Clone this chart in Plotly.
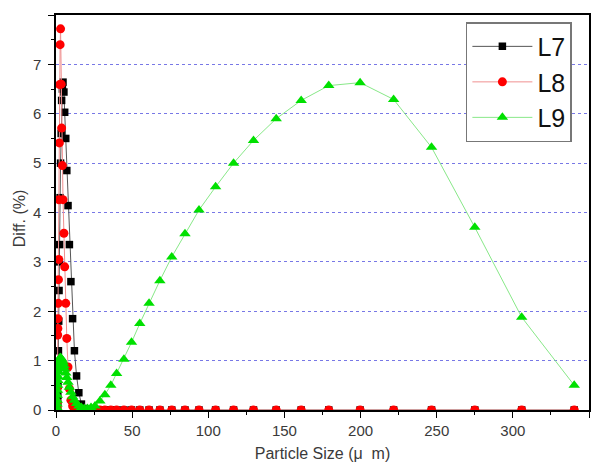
import plotly.graph_objects as go

# Particle size bins (µm)
sizes = [0.6, 0.7, 0.8, 0.9, 1.0, 1.1, 1.2, 1.3, 1.45, 1.6,
         1.8, 2.0, 2.2, 2.4, 2.7, 3.0, 3.4, 3.7, 4.2, 4.6,
         5.2, 5.7, 6.4, 7.1, 7.9, 8.8, 9.8, 10.9, 12.1, 13.5,
         15.0, 16.7, 18.6, 20.7, 23.0, 25.6, 28.8, 32.1, 36.0, 39.8,
         44.6, 49.6, 55.0, 61.1, 68.2, 76.0, 84.7, 93.9, 104.8, 116.6,
         129.7, 144.6, 161.0, 179.1, 199.7, 221.7, 246.6, 275.0, 305.8, 340.3]

L7 = [0, 0, 0.02, 0.05, 0.1, 0.18, 0.3, 0.5, 0.8, 1.2,
      1.8, 2.42, 3.0, 3.35, 4.3, 5.0, 5.6, 6.27, 6.5, 6.64,
      6.44, 6.03, 5.5, 4.85, 4.14, 3.35, 2.6, 1.85, 1.2, 0.69,
      0.35, 0.12, 0.03, 0.01, 0, 0, 0, 0, 0, 0,
      0, 0, 0, 0, 0, 0, 0, 0, 0, 0,
      0, 0, 0, 0, 0, 0, 0, 0, 0, 0]

L8 = [0, 0.05, 0.15, 0.45, 0.95, 1.52, 1.65, 1.85, 2.16, 2.64,
      3.05, 4.26, 5.41, 6.59, 7.40, 7.72, 6.6, 5.71, 4.95, 4.26,
      3.58, 2.9, 2.16, 1.45, 0.87, 0.43, 0.2, 0.08, 0.03, 0.01,
      0, 0, 0, 0, 0, 0, 0, 0, 0, 0,
      0, 0, 0, 0, 0, 0, 0, 0, 0, 0,
      0, 0, 0, 0, 0, 0, 0, 0, 0, 0]

L9 = [0.05, 0.12, 0.2, 0.3, 0.4, 0.5, 0.6, 0.68, 0.78, 0.86,
      0.93, 0.98, 1.02, 1.04, 1.06, 1.06, 1.05, 1.03, 1.0, 0.96,
      0.9, 0.83, 0.75, 0.66, 0.56, 0.46, 0.36, 0.27, 0.2, 0.13,
      0.08, 0.05, 0.03, 0.03, 0.05, 0.08, 0.18, 0.31, 0.5, 0.74,
      1.03, 1.37, 1.75, 2.16, 2.62, 3.10, 3.57, 4.05, 4.52, 5.0,
      5.46, 5.90, 6.27, 6.57, 6.63, 6.29, 5.32, 3.70, 1.88, 0.50]

x_ticks = [0, 50, 100, 150, 200, 250, 300, 350]
y_ticks = [0, 1, 2, 3, 4, 5, 6, 7, 8]

FONT = "Liberation Sans, Arial, sans-serif"
TXT = "#3a3a3a"

fig = go.Figure()
fig.add_trace(go.Scatter(
    x=sizes, y=L7, name="L7", mode="lines+markers",
    line=dict(color="#555555", width=1),
    marker=dict(symbol="square", size=7.5, color="#000000"),
))
fig.add_trace(go.Scatter(
    x=sizes, y=L8, name="L8", mode="lines+markers",
    line=dict(color="#f09090", width=1),
    marker=dict(symbol="circle", size=9, color="#ff0000"),
))
fig.add_trace(go.Scatter(
    x=sizes, y=L9, name="L9", mode="lines+markers",
    line=dict(color="#88e888", width=1),
    marker=dict(symbol="triangle-up", size=10, color="#00e000"),
))

fig.update_layout(
    width=593, height=465,
    margin=dict(l=48, r=12, t=7, b=63, autoexpand=False),
    paper_bgcolor="white", plot_bgcolor="white",
    font=dict(family=FONT, color=TXT, size=15),
    showlegend=True,
    legend=dict(
        x=0.769, y=0.982, xanchor="left", yanchor="top",
        bgcolor="white", bordercolor="#777777", borderwidth=1.5,
        font=dict(size=25, color="#111111", family=FONT),
        itemwidth=60, tracegroupgap=0,
    ),
    xaxis=dict(
        range=[0, 350], tickvals=x_ticks, automargin=False,
        showgrid=False, zeroline=False,
        showline=True, linecolor="black", linewidth=1.5, mirror=True,
        ticks="outside", ticklen=6, tickcolor="black", tickwidth=1.2,
        minor=dict(dtick=25, tick0=0, ticks="outside", ticklen=3, tickcolor="black", showgrid=False),
        tickfont=dict(size=15, color=TXT),
        title=dict(text="Particle Size (μ  m)", font=dict(size=16, color=TXT), standoff=10),
    ),
    yaxis=dict(
        range=[0, 8], tickvals=y_ticks, automargin=False,
        showgrid=True, gridcolor="rgb(120,120,230)", griddash="dot", gridwidth=1,
        zeroline=False,
        showline=True, linecolor="black", linewidth=1.5, mirror=True,
        ticks="outside", ticklen=6, tickcolor="black", tickwidth=1.2,
        minor=dict(dtick=0.5, tick0=0, ticks="outside", ticklen=3, tickcolor="black", showgrid=False),
        tickfont=dict(size=15, color=TXT),
        ticklabelstandoff=4,
    ),
    annotations=[dict(
        text="Diff. (%)", textangle=-90, xref="paper", yref="paper",
        x=-0.068, y=0.485, xanchor="center", yanchor="middle", showarrow=False,
        font=dict(size=16, color=TXT, family=FONT),
    )],
)

fig.write_html("out.html")
